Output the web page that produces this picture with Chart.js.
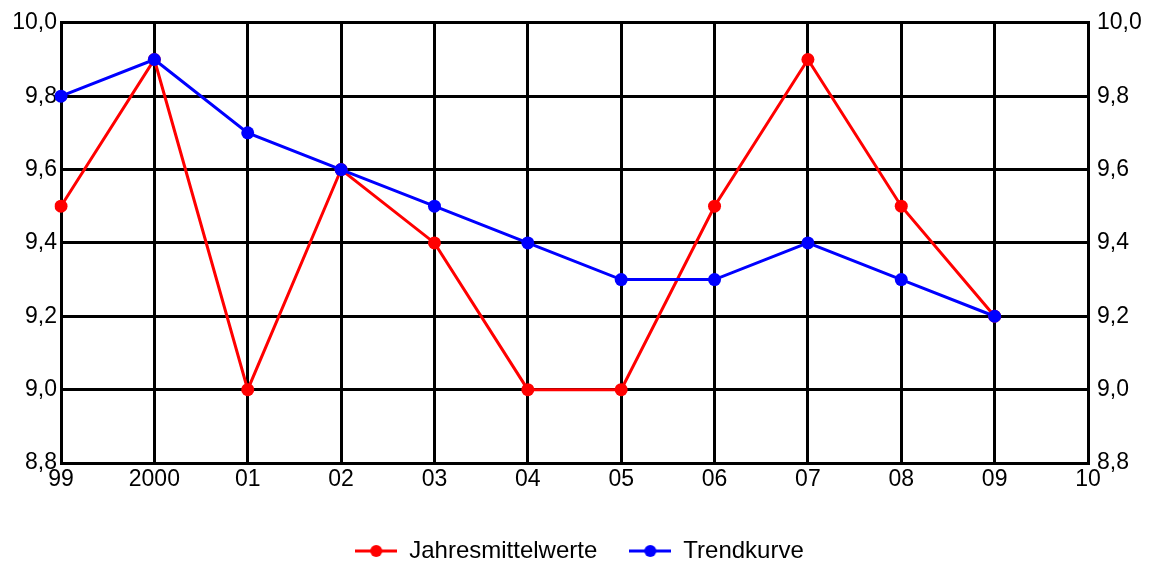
<!DOCTYPE html>
<html lang="de">
<head>
    <meta charset="UTF-8">
    <title>Jahresmittelwerte</title>
    <script src="https://cdn.jsdelivr.net/npm/chart.js@4.4.1/dist/chart.umd.min.js"></script>
    <style>
        body { margin: 0; background: #fff; }
        canvas { display: block; }
    </style>
</head>
<body>
    <canvas id="chart" width="1159" height="566"></canvas>

    <script>
        // Jahre (Achsenbeschriftung)
        const jahre = ['99', '2000', '01', '02', '03', '04', '05', '06', '07', '08', '09', '10'];
        // Messwerte
        const jahresmittel = [9.5, 9.9, 9.0, 9.6, 9.4, 9.0, 9.0, 9.5, 9.9, 9.5, 9.2, null];
        const trendkurve = [9.8, 9.9, 9.7, 9.6, 9.5, 9.4, 9.3, 9.3, 9.4, 9.3, 9.2, null];
        // y-Achse
        const yMin = 8.8;
        const yMax = 10.0;
        const yStep = 0.2;

        const FONT = 'Liberation Sans, Arial, sans-serif';

        // kleines Bild fuer die Legende: Linie mit Punkt
        function legendMarker(color) {
            const c = document.createElement('canvas');
            c.width = 42;
            c.height = 14;
            const g = c.getContext('2d');
            g.strokeStyle = color;
            g.lineWidth = 3;
            g.beginPath();
            g.moveTo(0, 7);
            g.lineTo(42, 7);
            g.stroke();
            g.fillStyle = color;
            g.beginPath();
            g.arc(21, 7, 6, 0, Math.PI * 2);
            g.fill();
            return c;
        }

        const fmt = v => Number(v).toFixed(1).replace('.', ',');

        new Chart(document.getElementById('chart'), {
            type: 'line',
            data: {
                labels: jahre,
                datasets: [
                    {
                        label: 'Jahresmittelwerte',
                        data: jahresmittel,
                        borderColor: '#ff0000',
                        backgroundColor: '#ff0000',
                        borderWidth: 3,
                        pointRadius: 6.5,
                        pointBorderWidth: 0,
                        pointStyle: 'circle',
                        tension: 0,
                        order: 2
                    },
                    {
                        label: 'Trendkurve',
                        data: trendkurve,
                        borderColor: '#0000ff',
                        backgroundColor: '#0000ff',
                        borderWidth: 3,
                        pointRadius: 6.5,
                        pointBorderWidth: 0,
                        pointStyle: 'circle',
                        tension: 0,
                        order: 1
                    }
                ]
            },
            options: {
                responsive: false,
                animation: false,
                layout: { padding: { top: 22, left: 0, right: 0, bottom: 0 } },
                plugins: {
                    tooltip: { enabled: false },
                    legend: {
                        position: 'bottom',
                        maxHeight: 59,
                        labels: {
                            usePointStyle: true,
                            pointStyleWidth: 42,
                            padding: 32,
                            color: '#000',
                            font: { family: FONT, size: 24 },
                            sort: (a, b) => a.datasetIndex - b.datasetIndex,
                            generateLabels: chart => chart.data.datasets.map((ds, i) => ({
                                text: ds.label,
                                datasetIndex: i,
                                pointStyle: legendMarker(ds.borderColor),
                                fillStyle: ds.borderColor,
                                strokeStyle: ds.borderColor,
                                lineWidth: 0,
                                fontColor: '#000',
                                hidden: false
                            }))
                        }
                    }
                },
                scales: {
                    x: {
                        type: 'category',
                        offset: false,
                        afterFit: s => { s.height = 44; },
                        grid: { color: '#000', lineWidth: 3, drawTicks: false },
                        border: { display: true, color: '#000', width: 3 },
                        ticks: {
                            color: '#000',
                            padding: 3,
                            maxRotation: 0,
                            autoSkip: false,
                            font: { family: FONT, size: 23 }
                        }
                    },
                    y: {
                        position: 'left',
                        min: yMin,
                        max: yMax,
                        afterFit: s => { s.width = 61; },
                        grid: { color: '#000', lineWidth: 3, drawTicks: false },
                        border: { display: true, color: '#000', width: 3 },
                        ticks: {
                            stepSize: yStep,
                            color: '#000',
                            padding: 4,
                            font: { family: FONT, size: 23 },
                            callback: v => fmt(v)
                        }
                    },
                    y2: {
                        position: 'right',
                        min: yMin,
                        max: yMax,
                        afterFit: s => { s.width = 71; },
                        grid: { display: false, drawTicks: false },
                        border: { display: true, color: '#000', width: 3 },
                        ticks: {
                            stepSize: yStep,
                            color: '#000',
                            padding: 9,
                            font: { family: FONT, size: 23 },
                            callback: v => fmt(v)
                        }
                    }
                }
            }
        });
    </script>
</body>
</html>
